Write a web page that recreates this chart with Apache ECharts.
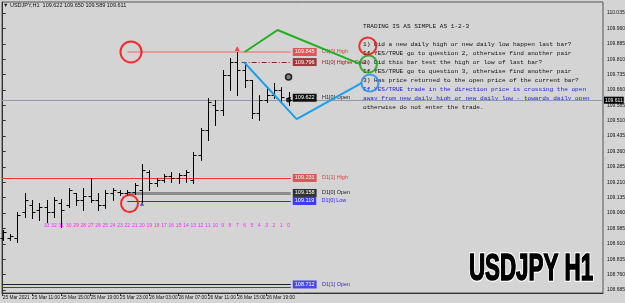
<!DOCTYPE html>
<html><head><meta charset="utf-8">
<script src="https://cdn.jsdelivr.net/npm/echarts@6/dist/echarts.min.js"></script>
<style>html,body{margin:0;padding:0;background:#d4d4d4;}#c{width:625px;height:303px;}</style>
</head><body><div id="c"></div>
<script>
// ---- data ----
// OHLC per hourly bar (k = 0..39 from left, 25 Mar 07:00 .. 26 Mar 22:00)
const opens  = [108.939,108.939,108.939,109.065,109.099,109.075,109.090,109.065,109.109,109.099,109.158,109.124,109.143,109.124,109.099,109.158,109.163,109.158,109.163,109.173,109.260,109.207,109.221,109.241,109.231,109.246,109.221,109.343,109.465,109.587,109.562,109.733,109.796,109.757,109.709,109.548,109.611,109.635,109.660,109.622];
const highs  = [108.978,108.958,109.065,109.158,109.124,109.109,109.124,109.138,109.129,109.182,109.158,109.182,109.231,109.158,109.173,109.182,109.173,109.173,109.207,109.299,109.270,109.231,109.250,109.260,109.255,109.270,109.358,109.475,109.621,109.611,109.757,109.816,109.845,109.791,109.709,109.635,109.670,109.694,109.674,109.650];
const lows   = [108.929,108.929,108.919,109.041,109.036,109.026,109.017,109.041,108.992,109.090,109.099,109.075,109.114,109.075,109.085,109.124,109.148,109.148,109.153,109.114,109.173,109.192,109.212,109.212,109.207,109.212,109.207,109.319,109.416,109.489,109.538,109.660,109.635,109.674,109.523,109.514,109.601,109.621,109.606,109.589];
const closes = [108.968,108.948,109.051,109.124,109.065,109.090,109.065,109.124,109.075,109.173,109.124,109.143,109.124,109.099,109.158,109.173,109.158,109.163,109.197,109.270,109.207,109.221,109.241,109.231,109.246,109.260,109.343,109.465,109.601,109.562,109.733,109.796,109.757,109.709,109.548,109.611,109.635,109.660,109.626,109.611];
const countLabels = [33,32,31,30,29,28,27,26,25,24,23,22,21,20,19,18,17,16,15,14,13,12,11,10,9,8,7,6,5,4,3,2,1,0];
const countPrice = 108.997;
const yTicks = [110.035,109.960,109.885,109.810,109.735,109.660,109.585,109.510,109.435,109.360,109.285,109.210,109.135,109.060,108.985,108.910,108.835,108.760,108.685];
const xTickBars = [0,4,8,12,16,20,24,28,32,36];
const xTickLabels = ['25 Mar 2021','25 Mar 11:00','25 Mar 15:00','25 Mar 19:00','25 Mar 23:00','26 Mar 03:00','26 Mar 07:00','26 Mar 11:00','26 Mar 15:00','26 Mar 19:00'];
const currentPrice = 109.611;
const levelNames  = ['D1[0] High','H1[0] Higher Open','H1[0] Open','D1[1] High','D1[0] Open','D1[0] Low','D1[1] Open','D1[1] Low'];
const levelPrices = [109.845,109.796,109.622,109.231,109.158,109.119,108.712,108.697];
const levelStart  = [17,32.6,39,-0.1,17,17,-0.1,-0.1];
const levelEnd    = 39.3;
const greenPath = [[33.0,109.845],[37.5,109.952],[48.8,109.786]];
const bluePath  = [[32.9,109.796],[40.1,109.518],[49.0,109.694]];
const circles   = [[17.5,109.845],[17.3,109.107],[49.8,109.874],[49.9,109.786],[50.1,109.694]];
const textLines = ['TRADING IS AS SIMPLE AS 1-2-3','','1) Did a new daily high or new daily low happen last bar?','If YES/TRUE go to question 2, otherwise find another pair','2) Did this bar test the high or low of last bar?','If YES/TRUE go to question 3, otherwise find another pair','3) Has price returned to the open price of the current bar?','If YES/TRUE trade in the direction price is crossing the open','away from new daily high or new daily low - towards daily open','otherwise do not enter the trade.'];
const titleText = 'USDJPY,H1  109.622 109.650 109.589 109.611';

// ---- build ----
const ohlc = opens.map((o,k)=>[k,o,highs[k],lows[k],closes[k]]);
const countData = countLabels.map((c,j)=>[opens.length-countLabels.length+j,countPrice,c]);

const levelStyle = [
 {c:'#e88a8a',w:1.5,t:'solid',bg:'#e05555',tc:'#e04040'},
 {c:'#8b2020',w:1,t:[5,2,1,2],bg:'#a03a3a',tc:'#8b2020'},
 {c:'#000',w:1,t:'solid',bg:'#111',tc:'#222'},
 {c:'#ff3333',w:1,t:'solid',bg:'#e05555',tc:'#e04040'},
 {c:'#8c8c8c',w:3,t:'solid',bg:'#333',tc:'#222'},
 {c:'#2a2aff',w:1,t:'solid',bg:'#3a3aff',tc:'#2a2aff'},
 {c:'#222',w:1,t:'solid',bg:'#4a4ae0',tc:'#3030c0'},
 {c:'#3030ff',w:1,t:'solid',bg:'#4a4ae0',tc:'#3030c0'}
];
const showLabel=[true,true,true,true,true,true,true,false];
const levelSeries = levelNames.map((n,i)=>({
  type:'line', data:[], silent:true,
  markLine:{symbol:'none', silent:true, animation:false,
    lineStyle:{color:levelStyle[i].c,width:levelStyle[i].w,type:levelStyle[i].t},
    label:{show:showLabel[i],position:'end',distance:2,
      formatter:'{b|'+levelPrices[i].toFixed(3)+'} {t|'+n+'}',
      rich:{b:{backgroundColor:levelStyle[i].bg,color:'#fff',fontSize:5.5,padding:[1,2],fontFamily:'Liberation Sans'},
            t:{color:levelStyle[i].tc,fontSize:5.5,padding:[0,0,0,2],fontFamily:'Liberation Sans'}}},
    data:[[{coord:[levelStart[i],levelPrices[i]]},{coord:[levelEnd,levelPrices[i]]}]]}
}));

function renderOHLC(params, api){
  const k=api.value(0);
  const h=api.coord([k,api.value(2)]), l=api.coord([k,api.value(3)]);
  const o=api.coord([k,api.value(1)]), c=api.coord([k,api.value(4)]);
  const x=Math.round(h[0])+0.5;
  const yo=Math.round(o[1])+0.5, yc=Math.round(c[1])+0.5;
  return {type:'group',children:[
    {type:'line',shape:{x1:x,y1:Math.round(h[1]),x2:x,y2:Math.round(l[1])+1},style:{stroke:'#000',lineWidth:1}},
    {type:'line',shape:{x1:x-3,y1:yo,x2:x,y2:yo},style:{stroke:'#000',lineWidth:1}},
    {type:'line',shape:{x1:x,y1:yc,x2:x+3,y2:yc},style:{stroke:'#000',lineWidth:1}}
  ]};
}

const chart = echarts.init(document.getElementById('c'),null,{renderer:'canvas'});
const font='Liberation Sans';
chart.setOption({
  animation:false,
  backgroundColor:'#d4d4d4',
  grid:{left:2,right:22,top:2,bottom:10,outerBoundsMode:'none',containLabel:false,show:true,borderColor:'#555',borderWidth:1,backgroundColor:'#d4d4d4'},
  xAxis:{type:'value',min:-0.1,max:81.9,position:'bottom',
    axisLine:{show:true,lineStyle:{color:'#333'}},splitLine:{show:false},
    axisTick:{show:true,length:3,lineStyle:{color:'#333'},customValues:xTickBars},
    axisLabel:{customValues:xTickBars,showMinLabel:true,hideOverlap:false,fontSize:4.8,color:'#111',fontFamily:font,margin:2,align:'left',
      formatter:v=>xTickLabels[xTickBars.indexOf(Math.round(v))]||''}},
  yAxis:{type:'value',position:'right',min:108.6704,max:110.0886,scale:true,
    axisLine:{show:true,lineStyle:{color:'#333'}},splitLine:{show:false},
    axisTick:{show:true,length:3,inside:false,lineStyle:{color:'#333'},customValues:yTicks},
    axisLabel:{customValues:yTicks,fontSize:5,color:'#111',fontFamily:font,margin:4,formatter:v=>v.toFixed(3)}},
  graphic:[
    {type:'text',left:3,top:2,style:{text:'▼ '+titleText,fontSize:5.5,fill:'#111',fontFamily:font}},
    {type:'group',left:363,top:23,children:textLines.map((t,i)=>({type:'text',x:0,y:i*9,
      style:{text:t,fontSize:6.1,fontFamily:'Liberation Mono',fill:(i===7||i===8)?'#2020ee':'#111'}}))},
    {type:'text',x:469,y:252,scaleX:0.62,style:{text:'USDJPY H1',font:'bold 36px "Liberation Sans"',fill:'#000',stroke:'#fff',lineWidth:4}},
    {type:'text',x:469,y:252,scaleX:0.62,style:{text:'USDJPY H1',font:'bold 36px "Liberation Sans"',fill:'#000',stroke:'#000',lineWidth:1.5}}
  ],
  series:[
    {type:'custom',renderItem:renderOHLC,data:ohlc,encode:{x:0,y:[1,2,3,4]},z:5,
     markLine:{symbol:'none',silent:true,lineStyle:{color:'#8a9ab0',width:1,type:'solid'},
       label:{position:'end',distance:1,formatter:currentPrice.toFixed(3),backgroundColor:'#000',color:'#fff',fontSize:5,padding:[1,1],fontFamily:font},
       data:[{yAxis:currentPrice}]}},
    ...levelSeries,
    {type:'scatter',data:countData,symbolSize:0,silent:true,
     label:{show:true,position:'inside',formatter:p=>p.value[2],color:'#ff00ff',fontSize:5,fontFamily:font}},
    {type:'line',data:greenPath,symbol:'none',lineStyle:{color:'#20b020',width:2},z:6},
    {type:'line',data:bluePath,symbol:'none',lineStyle:{color:'#1aa0ee',width:2},z:6},
    {type:'scatter',data:circles.map((c,i)=>({value:c,symbolSize:i<1?21:17,
      itemStyle:{color:'rgba(0,0,0,0)',borderColor:['#ff0000','#ff0000','#ff0000','#10a010','#1a90ee'][i],borderWidth:2}})),z:7},
    {type:'scatter',data:[[32,109.862]],symbol:'triangle',symbolSize:5,itemStyle:{color:'#ff2020'},z:8},
    {type:'scatter',data:[[19,109.105]],symbol:'triangle',symbolSize:4,itemStyle:{color:'#2020ff'},z:8},
    {type:'scatter',data:[[39,109.723]],symbol:'circle',symbolSize:6,itemStyle:{color:'#666',borderColor:'#000',borderWidth:1.5},z:8},
    {type:'scatter',data:[[39,109.611]],symbol:'circle',symbolSize:5,itemStyle:{color:'#000'},z:8}
  ]
});
</script></body></html>
